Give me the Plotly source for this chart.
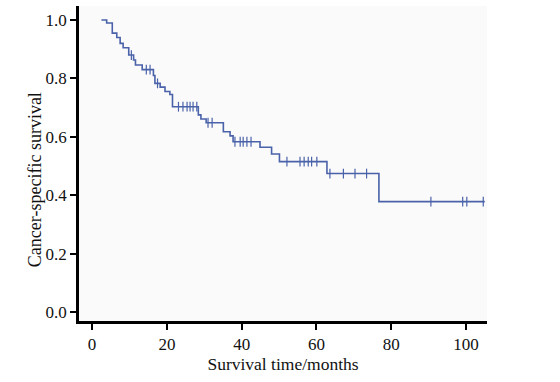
import plotly.graph_objects as go
import bisect

# Kaplan-Meier step data (time in months, survival after the step)
step_times = [2.5, 3.9, 5.4, 6.6, 7.5, 8.3, 9.8, 11.1, 11.6, 13.4, 16.4, 16.8, 18.2, 19.5,
              20.8, 21.5, 28.4, 29.1, 30.5, 35.1, 36.9, 37.7, 44.9, 48.0, 50.1, 62.8, 76.7]
step_surv = [1.0, 0.99, 0.955, 0.94, 0.92, 0.905, 0.88, 0.863, 0.846, 0.83, 0.81, 0.783,
             0.77, 0.755, 0.745, 0.703, 0.675, 0.661, 0.648, 0.617, 0.603, 0.583, 0.564,
             0.541, 0.515, 0.474, 0.378]
end_time = 105.0

# censored observation times
censor_times = [10.5, 14.5, 15.5, 17.5, 23.1, 24.3, 25.4, 26.2, 27.0, 28.0, 31.0, 32.1,
                38.2, 39.6, 40.4, 41.4, 42.5, 52.1, 55.6, 56.7, 57.8, 58.7, 60.1,
                63.6, 67.2, 70.3, 73.4, 90.6, 99.1, 100.2, 104.6]

x_ticks = [0, 20, 40, 60, 80, 100]
y_ticks = [0.0, 0.2, 0.4, 0.6, 0.8, 1.0]
y_tick_text = ["0.0", "0.2", "0.4", "0.6", "0.8", "1.0"]

x_title = "Survival time/months"
y_title = "Cancer-specific survival"

line_x = step_times + [end_time]
line_y = step_surv + [step_surv[-1]]

def surv_at(t):
    i = bisect.bisect_right(step_times, t) - 1
    return step_surv[max(i, 0)]

censor_y = [surv_at(t) for t in censor_times]

blue = "#4a62a9"
fig = go.Figure()
fig.add_trace(go.Scatter(x=line_x, y=line_y, mode="lines", line_shape="hv",
                         line=dict(color=blue, width=1.6), hoverinfo="skip", showlegend=False))
fig.add_trace(go.Scatter(x=censor_times, y=censor_y, mode="markers",
                         marker=dict(symbol="line-ns", size=7, line=dict(color=blue, width=1.2)),
                         showlegend=False))

font_family = "Liberation Serif, Times New Roman, serif"
fig.update_layout(
    width=560, height=382,
    margin=dict(l=79, r=73, t=6, b=61),
    paper_bgcolor="white",
    plot_bgcolor="#fafafa",
    font=dict(family=font_family, size=16, color="#111"),
    xaxis=dict(range=[-3.5, 105.6], tickvals=x_ticks, ticks="outside", ticklen=6, tickwidth=2,
               tickcolor="black", showline=True, linecolor="black", linewidth=2.5,
               showgrid=False, zeroline=False, tickfont=dict(size=17), automargin=False,
               title=dict(text=x_title, font=dict(size=17.5), standoff=2)),
    yaxis=dict(range=[-0.031, 1.048], tickvals=y_ticks, ticktext=y_tick_text, ticks="outside",
               ticklen=6, tickwidth=2, tickcolor="black", showline=True, linecolor="black",
               linewidth=2.5, showgrid=False, zeroline=False, tickfont=dict(size=17),
               automargin=False),
    annotations=[dict(text=y_title, textangle=-90, xref="paper", yref="paper",
                      x=-0.108, y=0.45, xanchor="center", yanchor="middle",
                      showarrow=False, font=dict(size=18, family=font_family, color="#111"))],
)
fig.write_html("out.html", config={"displayModeBar": False},
               post_script="document.body.style.margin='0px';document.body.style.overflow='hidden';")
